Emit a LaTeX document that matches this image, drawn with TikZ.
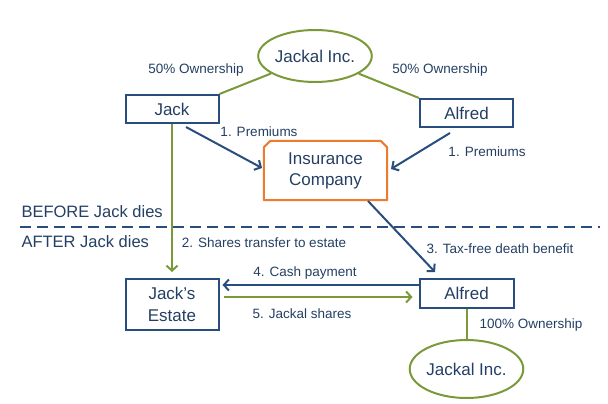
\documentclass[tikz,border=0pt]{standalone}
\usepackage{fontspec}
\setmainfont{Liberation Sans}
\usetikzlibrary{arrows.meta,shapes.geometric}
\definecolor{navy}{HTML}{2A4D80}
\definecolor{olive}{HTML}{7A9A3A}
\definecolor{orng}{HTML}{EE7A30}
\definecolor{txt}{HTML}{243F63}
\begin{document}
\begin{tikzpicture}[x=1pt,y=-1pt,
  every node/.style={text=txt},
  bigtxt/.style={font=\fontsize{17}{20}\selectfont},
  smalltxt/.style={font=\fontsize{13.5}{16}\selectfont},
  midtxt/.style={font=\fontsize{16.5}{19}\selectfont},
  person/.style={draw=navy,line width=2pt,rectangle,inner sep=0pt,bigtxt,align=center},
  company/.style={draw=olive,line width=2pt,ellipse,inner sep=0pt,bigtxt},
  insbox/.style={rectangle,inner sep=0pt,bigtxt,align=center},
  insline/.style={draw=orng,line width=2pt,line join=round},
  blueline/.style={draw=navy,line width=2pt},
  greenline/.style={draw=olive,line width=2pt},
  tip/.style={-{Straight Barb[length=5pt,width=11pt,line width=2pt]}}
]
\useasboundingbox (0,0) rectangle (608,404);
% nodes
\node[company,minimum width=106pt,minimum height=52pt] (jk1) at (315,56) {Jackal Inc.};
\node[person,minimum width=93pt,minimum height=28pt] (jack) at (172,109) {Jack};
\node[person,minimum width=93pt,minimum height=28pt] (alf1) at (466.5,113) {Alfred};
\node[insbox,minimum width=123pt,minimum height=59pt] (ins) at (325.5,170.5) {Insurance\\[1pt]Company};
\draw[insline] (ins.south west) -- ([yshift=-6.5pt]ins.north west) -- ([xshift=6.5pt]ins.north west)
  -- ([xshift=-6.5pt]ins.north east) -- ([yshift=-6.5pt]ins.north east) -- (ins.south east) -- cycle;
\node[person,minimum width=93pt,minimum height=51pt] (est) at (172,304.5) {Jack's\\[2pt]Estate};
\node[person,minimum width=94pt,minimum height=29pt] (alf2) at (466.5,293.5) {Alfred};
\node[company,minimum width=105pt,minimum height=58pt] (jk2) at (466.5,369) {Jackal Inc.};
% labels
\node[smalltxt] (l50a) at (196,70) {50\% Ownership};
\node[smalltxt] (l50b) at (440,70) {50\% Ownership};
\node[smalltxt] (lp1) at (259,132) {1. Premiums};
\node[smalltxt] (lp2) at (487,152) {1. Premiums};
\node[midtxt,anchor=west] (lbef) at (18,212) {BEFORE Jack dies};
\node[midtxt,anchor=west] (laft) at (18,242) {AFTER Jack dies};
\node[smalltxt] (l2) at (264,243) {2. Shares transfer to estate};
\node[smalltxt] (l3) at (500,249) {3. Tax-free death benefit};
\node[smalltxt] (l4) at (305,273) {4. Cash payment};
\node[smalltxt] (l5) at (302,314) {5. Jackal shares};
\node[smalltxt,anchor=west] (l100) at (476,325) {100\% Ownership};
% coordinates
\coordinate (p1s) at (186,127);
\coordinate (p1e) at (262,168);
\coordinate (p2s) at (450,133);
\coordinate (p2e) at (391,169);
\coordinate (p3s) at (368,201);
\coordinate (p3e) at (435,272);
\coordinate (d1) at (20,227);
\coordinate (d2) at (600,227);
% connectors
\draw[greenline] (jk1) -- (jack.north east);
\draw[greenline] (jk1) -- (alf1.north west);
\draw[blueline,tip] (p1s) -- (p1e);
\draw[blueline,tip] (p2s) -- (p2e);
\draw[blueline,tip] (p3s) -- (p3e);
\draw[greenline,tip,shorten >=6pt] (jack.south) -- (est.north);
\draw[blueline,dash pattern=on 11pt off 6pt] (d1) -- (d2);
\draw[blueline,tip] ([yshift=8.5pt]alf2.west) -- ([yshift=19.5pt,xshift=3pt]est.east);
\draw[greenline,tip] ([yshift=7.5pt,xshift=4pt]est.east) -- ([yshift=-3.5pt,xshift=-6pt]alf2.west);
\draw[greenline] (alf2) -- (jk2);
\end{tikzpicture}
\end{document}
